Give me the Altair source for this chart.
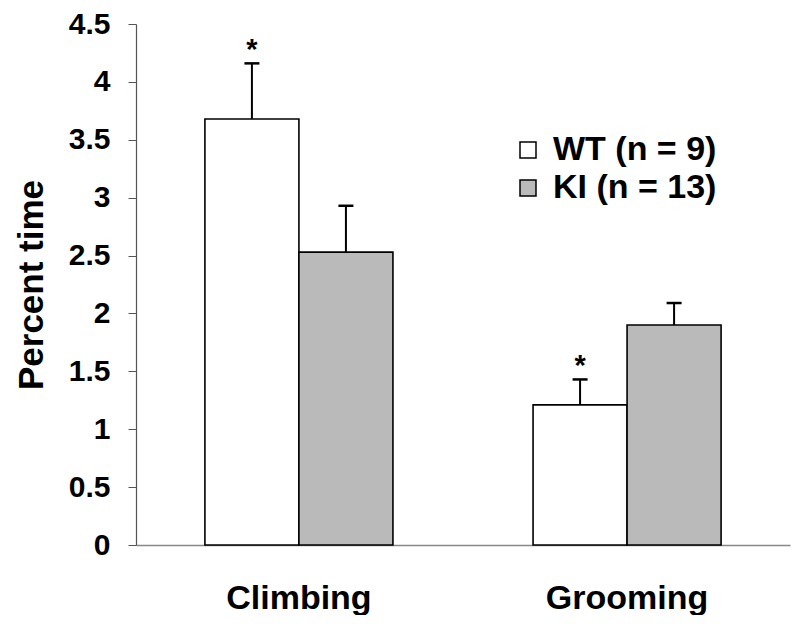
import altair as alt
import pandas as pd

categories = ["Climbing", "Grooming"]
groups = ["WT (n = 9)", "KI (n = 13)"]
wt_mean = [3.68, 1.21]
wt_sem = [0.48, 0.22]
ki_mean = [2.53, 1.90]
ki_sem = [0.40, 0.19]
wt_mark = ["*", "*"]
ki_mark = ["", ""]
y_ticks = [0, 0.5, 1, 1.5, 2, 2.5, 3, 3.5, 4, 4.5]

rows = []
for i, c in enumerate(categories):
    rows.append(dict(behavior=c, group=groups[0], mean=wt_mean[i], upper=wt_mean[i] + wt_sem[i], sig=wt_mark[i]))
    rows.append(dict(behavior=c, group=groups[1], mean=ki_mean[i], upper=ki_mean[i] + ki_sem[i], sig=ki_mark[i]))
df = pd.DataFrame(rows)

FONT = "Liberation Sans"

x = alt.X("behavior:N", sort=categories, title=None,
          scale=alt.Scale(paddingInner=0.427, paddingOuter=0.21),
          axis=alt.Axis(labelAngle=0, ticks=False, labelPadding=36, labelFontSize=34,
                        labelFontWeight="bold", labelFont=FONT, labelColor="black",
                        domainColor="#888888", domainWidth=1.5))
xo = alt.XOffset("group:N", sort=groups)
yscale = alt.Scale(domain=[0, 4.5], nice=False, zero=True)

base = alt.Chart(df)

bars = base.mark_bar(stroke="black", strokeWidth=1.6, opacity=1).encode(
    x=x, xOffset=xo,
    y=alt.Y("mean:Q", scale=yscale, title="Percent time",
            axis=alt.Axis(values=y_ticks, format="~g", grid=False, tickSize=8, tickColor="#555555",
                          domainColor="#555555", domainWidth=1.2, labelPadding=18,
                          labelFontSize=30, labelFontWeight="bold", labelFont=FONT, labelColor="black",
                          titleFontSize=35, titleFontWeight="bold", titleFont=FONT, titleColor="black",
                          titlePadding=19)),
    color=alt.Color("group:N", sort=groups,
                    scale=alt.Scale(domain=groups, range=["white", "#bababa"]),
                    legend=alt.Legend(title=None, orient="none", legendX=375, legendY=109,
                                      symbolType="square", symbolSize=256, symbolStrokeColor="black",
                                      symbolStrokeWidth=1.5, labelFontSize=34, labelFontWeight="bold",
                                      labelFont=FONT, labelColor="black", rowPadding=4, labelLimit=400,
                                      labelOffset=8, symbolOpacity=1)),
)

err = base.mark_rule(color="black", strokeWidth=2).encode(
    x=x, xOffset=xo,
    y=alt.Y("mean:Q", scale=yscale),
    y2="upper:Q",
)

caps = base.mark_tick(color="black", thickness=2.5, size=15, opacity=1).encode(
    x=x, xOffset=xo,
    y=alt.Y("upper:Q", scale=yscale),
)

stars = base.mark_text(fontSize=29, fontWeight="bold", font=FONT, color="black",
                       baseline="alphabetic", dy=-4).encode(
    x=x, xOffset=xo,
    y=alt.Y("upper:Q", scale=yscale),
    text="sig:N",
)

chart = alt.layer(bars, err, caps, stars).properties(
    width=654, height=521,
    autosize=alt.AutoSizeParams(type="none"),
    padding={"left": 128, "top": 16, "right": 2, "bottom": 70},
    background="white",
).configure_view(stroke=None)

chart.save("out.html", embed_options={"renderer": "svg", "actions": False})
